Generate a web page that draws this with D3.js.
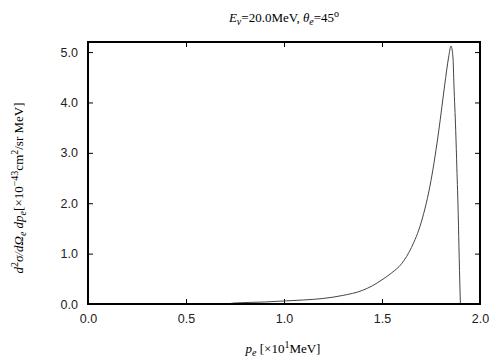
<!DOCTYPE html>
<html>
<head>
<meta charset="utf-8">
<script src="https://d3js.org/d3.v7.min.js"></script>
<style>
  body { margin: 0; background: #fff; }
  .tick text { font-family: "Liberation Sans", Arial, sans-serif; font-size: 12.5px; fill: #222; }
  .lbl { font-family: "Liberation Serif", "Times New Roman", serif; fill: #000; }
</style>
</head>
<body>
<div id="chart"></div>
<script>
var margin = {left: 88, top: 42, right: 24, bottom: 56},
    width = 504 - margin.left - margin.right,
    height = 360 - margin.top - margin.bottom;

// curve: p_e [x10 MeV], cross section [x10^-43 cm^2/sr MeV]
var pe = [0.70, 0.75, 0.90, 1.00, 1.10, 1.20, 1.30, 1.40, 1.45, 1.50, 1.55, 1.60, 1.65,
          1.70, 1.75, 1.79, 1.82, 1.84, 1.852, 1.862, 1.867, 1.876, 1.882, 1.889, 1.894, 1.900];
var xsec = [0.00, 0.02, 0.04, 0.06, 0.08, 0.11, 0.17, 0.27, 0.36, 0.48, 0.62, 0.80, 1.12,
            1.62, 2.45, 3.45, 4.35, 4.90, 5.12, 4.90, 4.35, 3.45, 2.70, 1.77, 0.90, 0.00];

var xTicks = [0, 0.5, 1.0, 1.5, 2.0];
var yTicks = [0, 1, 2, 3, 4, 5];

var x = d3.scaleLinear().domain([0, 2]).range([0, width]);
var y = d3.scaleLinear().domain([0, 5.2]).range([height, 0]);

var svg = d3.select("#chart").append("svg")
    .attr("width", 504)
    .attr("height", 360)
    .append("g")
    .attr("transform", "translate(" + margin.left + "," + margin.top + ")");

// bottom + left axes with labels, ticks pointing inside
svg.append("g")
    .attr("transform", "translate(0," + height + ")")
    .call(d3.axisBottom(x).tickValues(xTicks).tickSize(-5).tickPadding(10).tickFormat(d3.format(".1f")))
    .call(function(g) { g.select(".domain").remove(); });

svg.append("g")
    .call(d3.axisLeft(y).tickValues(yTicks).tickSize(-5).tickPadding(10).tickFormat(d3.format(".1f")))
    .call(function(g) { g.select(".domain").remove(); });

// mirror ticks on top and right
svg.append("g")
    .call(d3.axisTop(x).tickValues(xTicks).tickSize(-5).tickFormat(""))
    .call(function(g) { g.select(".domain").remove(); });

svg.append("g")
    .attr("transform", "translate(" + width + ",0)")
    .call(d3.axisRight(y).tickValues(yTicks).tickSize(-5).tickFormat(""))
    .call(function(g) { g.select(".domain").remove(); });

svg.selectAll(".tick line").attr("stroke", "#000");

// the curve
var line = d3.line()
    .x(function(d, i) { return x(pe[i]); })
    .y(function(d) { return y(d); })
    .curve(d3.curveMonotoneX);

svg.append("path")
    .datum(xsec)
    .attr("fill", "none")
    .attr("stroke", "#444")
    .attr("stroke-width", 1)
    .attr("d", line);

// frame
svg.append("rect")
    .attr("width", width)
    .attr("height", height)
    .attr("fill", "none")
    .attr("stroke", "#000")
    .attr("stroke-width", 2);

// title
var title = d3.select("svg").append("text")
    .attr("class", "lbl")
    .attr("x", 284).attr("y", 22)
    .attr("text-anchor", "middle")
    .style("font-size", "13px");
title.append("tspan").style("font-style", "italic").text("E");
title.append("tspan").style("font-style", "italic").attr("dy", 3).style("font-size", "10px").text("ν");
title.append("tspan").attr("dy", -3).text("=20.0MeV,  ");
title.append("tspan").style("font-style", "italic").text("θ");
title.append("tspan").style("font-style", "italic").attr("dy", 3).style("font-size", "10px").text("e");
title.append("tspan").attr("dy", -3).text("=45");
title.append("tspan").attr("dy", -5).style("font-size", "10px").text("o");

// x label
var xl = d3.select("svg").append("text")
    .attr("class", "lbl")
    .attr("x", 283).attr("y", 353)
    .attr("text-anchor", "middle")
    .style("font-size", "13px");
xl.append("tspan").style("font-style", "italic").text("p");
xl.append("tspan").style("font-style", "italic").attr("dy", 3).style("font-size", "10px").text("e");
xl.append("tspan").attr("dy", -3).text(" [×10");
xl.append("tspan").attr("dy", -5).style("font-size", "10px").text("1");
xl.append("tspan").attr("dy", 5).text("MeV]");

// y label
var yl = d3.select("svg").append("text")
    .attr("class", "lbl")
    .attr("transform", "translate(23,188) rotate(-90)")
    .attr("text-anchor", "middle")
    .style("font-size", "13px");
yl.append("tspan").style("font-style", "italic").text("d");
yl.append("tspan").attr("dy", -5).style("font-size", "10px").text("2");
yl.append("tspan").attr("dy", 5).style("font-style", "italic").text("σ/dΩ");
yl.append("tspan").style("font-style", "italic").attr("dy", 3).style("font-size", "10px").text("e");
yl.append("tspan").attr("dy", -3).style("font-style", "italic").text(" dp");
yl.append("tspan").style("font-style", "italic").attr("dy", 3).style("font-size", "10px").text("e");
yl.append("tspan").attr("dy", -3).text("[×10");
yl.append("tspan").attr("dy", -5).style("font-size", "10px").text("−43");
yl.append("tspan").attr("dy", 5).text("cm");
yl.append("tspan").attr("dy", -5).style("font-size", "10px").text("2");
yl.append("tspan").attr("dy", 5).text("/sr MeV]");
</script>
</body>
</html>
